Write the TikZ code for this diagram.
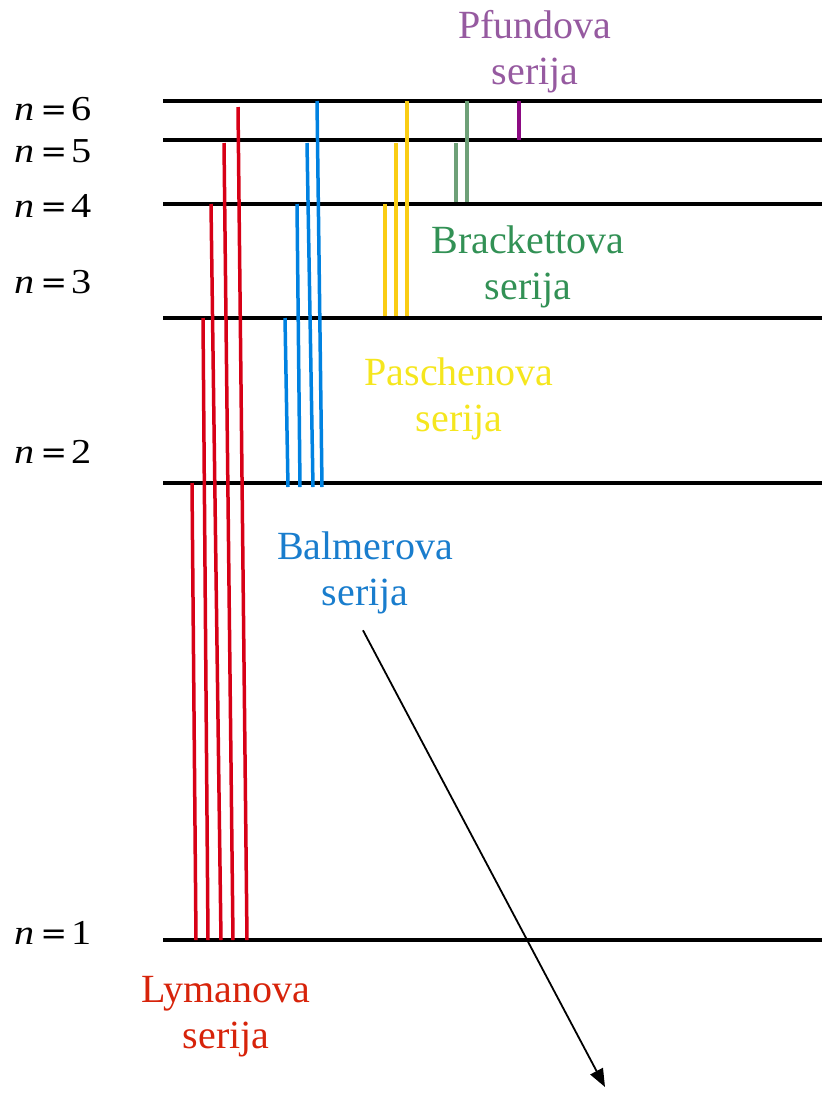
\documentclass[tikz,border=0pt]{standalone}
\usepackage{fontspec}
\setmainfont{Liberation Serif}
\newfontfamily\eqfont{DejaVu Serif}
\usepackage{graphicx}
\usepackage{tikz}
\usetikzlibrary{arrows.meta}
\definecolor{lymred}{RGB}{215,0,22}
\definecolor{lymtext}{RGB}{215,35,10}
\definecolor{balblue}{RGB}{0,130,225}
\definecolor{baltext}{RGB}{25,125,205}
\definecolor{pasyel}{RGB}{250,205,20}
\definecolor{pastext}{RGB}{245,230,30}
\definecolor{brgreen}{RGB}{110,160,120}
\definecolor{brtext}{RGB}{50,145,85}
\definecolor{pfpurple}{RGB}{140,10,130}
\definecolor{pftext}{RGB}{150,90,160}
\newcommand{\lvl}[1]{\scalebox{1.15}[1]{\itshape n}\hspace{6pt}{\eqfont\fontsize{32}{40}\selectfont=}\hspace{4pt}\scalebox{1.15}[1]{#1}}

\begin{document}
\begin{tikzpicture}[x=1pt,y=-1pt]
\tikzstyle{every node}=[inner sep=0pt]
\tikzstyle{level}=[line width=3.5pt,black]
\tikzstyle{trans}=[line width=3.5pt]
\tikzstyle{nlabel}=[anchor=base west,font=\fontsize{35}{40}\selectfont]
\tikzstyle{series}=[align=center,font=\fontsize{40}{46}\selectfont]
\useasboundingbox (0,0) rectangle (826,1096);
% energy levels
\coordinate (L6) at (163,101);
\coordinate (L5) at (163,140);
\coordinate (L4) at (163,204);
\coordinate (L3) at (163,318);
\coordinate (L2) at (163,483);
\coordinate (L1) at (163,940);
\foreach \k in {1,...,6} \draw[level] (L\k) -- ++(659,0);
\node[nlabel] (n6) at (14,120) {\lvl{6}};
\node[nlabel] (n5) at (14,162) {\lvl{5}};
\node[nlabel] (n4) at (14,217) {\lvl{4}};
\node[nlabel] (n3) at (14,293) {\lvl{3}};
\node[nlabel] (n2) at (14,463) {\lvl{2}};
\node[nlabel] (n1) at (14,944) {\lvl{1}};
% Lyman
\draw[trans,lymred] (192,483) -- (196,940);
\draw[trans,lymred] (203,318) -- (208,940);
\draw[trans,lymred] (211,204) -- (221,940);
\draw[trans,lymred] (224,143) -- (233,940);
\draw[trans,lymred] (238,107) -- (247,940);
% Balmer
\draw[trans,balblue] (285,318) -- (288,487);
\draw[trans,balblue] (297,204) -- (300,487);
\draw[trans,balblue] (307,143) -- (313,487);
\draw[trans,balblue] (317,101) -- (322,487);
% Paschen
\draw[trans,pasyel] (385,204) -- (385,316);
\draw[trans,pasyel] (396,143) -- (396,316);
\draw[trans,pasyel] (407,101) -- (407,316);
% Brackett, Pfund
\draw[trans,brgreen] (456,143) -- (456,202);
\draw[trans,brgreen] (467,101) -- (467,202);
\draw[trans,pfpurple] (519,101) -- (519,140);
\node[series,pftext] (pfund) at (535,52) {Pfundova\\serija};
\node[series,brtext] (brackett) at (528,267) {Brackettova\\serija};
\node[series,pastext] (paschen) at (459,399) {Paschenova\\serija};
\node[series,baltext] (balmer) at (365,573) {Balmerova\\serija};
\node[series,lymtext] (lyman) at (226,1017) {Lymanova\\serija};
\coordinate (tip) at (605,1087);
\path ([xshift=-2pt,yshift=-16pt]balmer.south) edge [line width=1.8pt,arrows={-Triangle[length=18pt,width=14pt]}] (tip);
\end{tikzpicture}
\end{document}
